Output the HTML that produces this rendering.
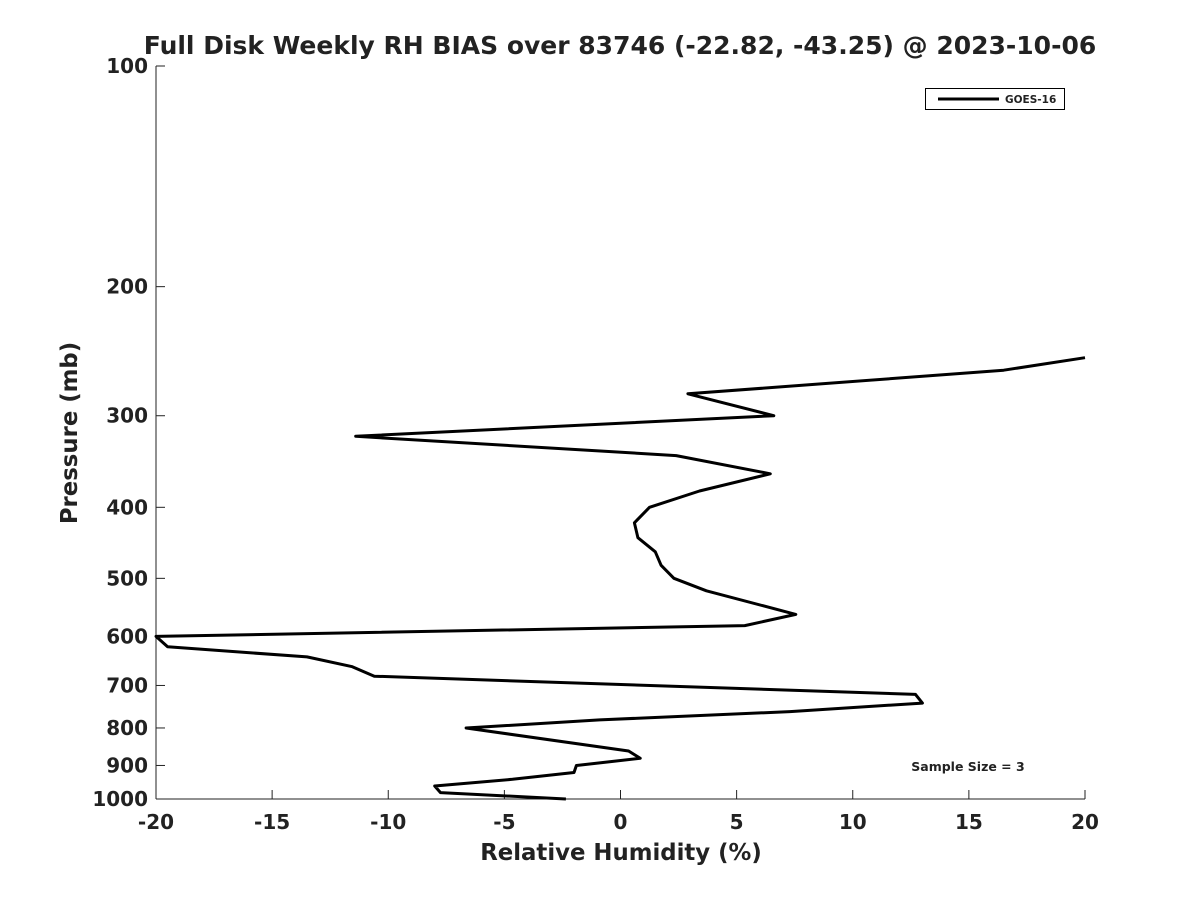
<!DOCTYPE html>
<html><head><meta charset="utf-8"><style>
body{margin:0;background:#fff;}
svg text{font-family:"DejaVu Sans","Liberation Sans",sans-serif;font-weight:bold;fill:#222;}
</style></head><body>
<svg id="chart" width="1200" height="900" viewBox="0 0 1200 900">
<rect width="1200" height="900" fill="#fff"/>
<text x="620" y="54" text-anchor="middle" font-size="25">Full Disk Weekly RH BIAS over 83746 (-22.82, -43.25) @ 2023-10-06</text>
<g id="axes"></g>
<polyline id="series" fill="none" stroke="#000" stroke-width="3" stroke-linejoin="round"/>
<g>
<rect x="925.5" y="88.5" width="139" height="21" fill="#fff" stroke="#000" stroke-width="1"/>
<line x1="938" y1="99" x2="999" y2="99" stroke="#000" stroke-width="3"/>
<text x="1005" y="103" font-size="10.5">GOES-16</text>
</g>
<text x="968" y="771" text-anchor="middle" font-size="12.5">Sample Size = 3</text>
<text x="621" y="860" text-anchor="middle" font-size="22.8">Relative Humidity (%)</text>
<text transform="translate(77,433) rotate(-90)" text-anchor="middle" font-size="22.8">Pressure (mb)</text>
</svg>
<script>
const xTicks=[-20,-15,-10,-5,0,5,10,15,20];
const yTicks=[100,200,300,400,500,600,700,800,900,1000];
const pressures=[250,260,280,300,320,340,360,380,400,420,440,460,480,500,520,560,580,600,620,640,660,680,720,740,760,780,800,860,880,900,920,940,960,980,1000];
const rhBias=[20,16.5,2.9,6.6,-11.4,2.4,6.45,3.4,1.25,0.6,0.75,1.5,1.75,2.3,3.7,7.55,5.35,-20,-19.5,-13.5,-11.55,-10.6,12.7,13,7.3,-0.9,-6.65,0.35,0.85,-1.9,-2.0,-4.65,-8,-7.75,-2.35];
const L=156,R=1085,T=66,B=799;
const xs=v=>L+(v+20)/40*(R-L);
const ys=p=>T+Math.log10(p/100)*(B-T);
const ns="http://www.w3.org/2000/svg";
const g=document.getElementById('axes');
function mk(t,a){const e=document.createElementNS(ns,t);for(const k in a)e.setAttribute(k,a[k]);g.appendChild(e);return e;}
const xa=mk('line',{x1:L,y1:B,x2:R,y2:B,stroke:'#222','stroke-width':1});


const ya=mk('line',{x1:L,y1:T,x2:L,y2:B,stroke:'#222','stroke-width':1});


xTicks.forEach(v=>{const x=xs(v);
mk('line',{x1:x,y1:B,x2:x,y2:B-9,stroke:'#222'});
const t=mk('text',{x:x,y:B+30,'text-anchor':'middle','font-size':20});t.textContent=v;

});
yTicks.forEach(p=>{const y=ys(p);
mk('line',{x1:L,y1:y,x2:L+9,y2:y,stroke:'#222'});
const t=mk('text',{x:L-8,y:y+7,'text-anchor':'end','font-size':20});t.textContent=p;

});
document.getElementById('series').setAttribute('points',pressures.map((p,i)=>xs(rhBias[i]).toFixed(1)+','+ys(p).toFixed(1)).join(' '));
</script>
</body></html>
